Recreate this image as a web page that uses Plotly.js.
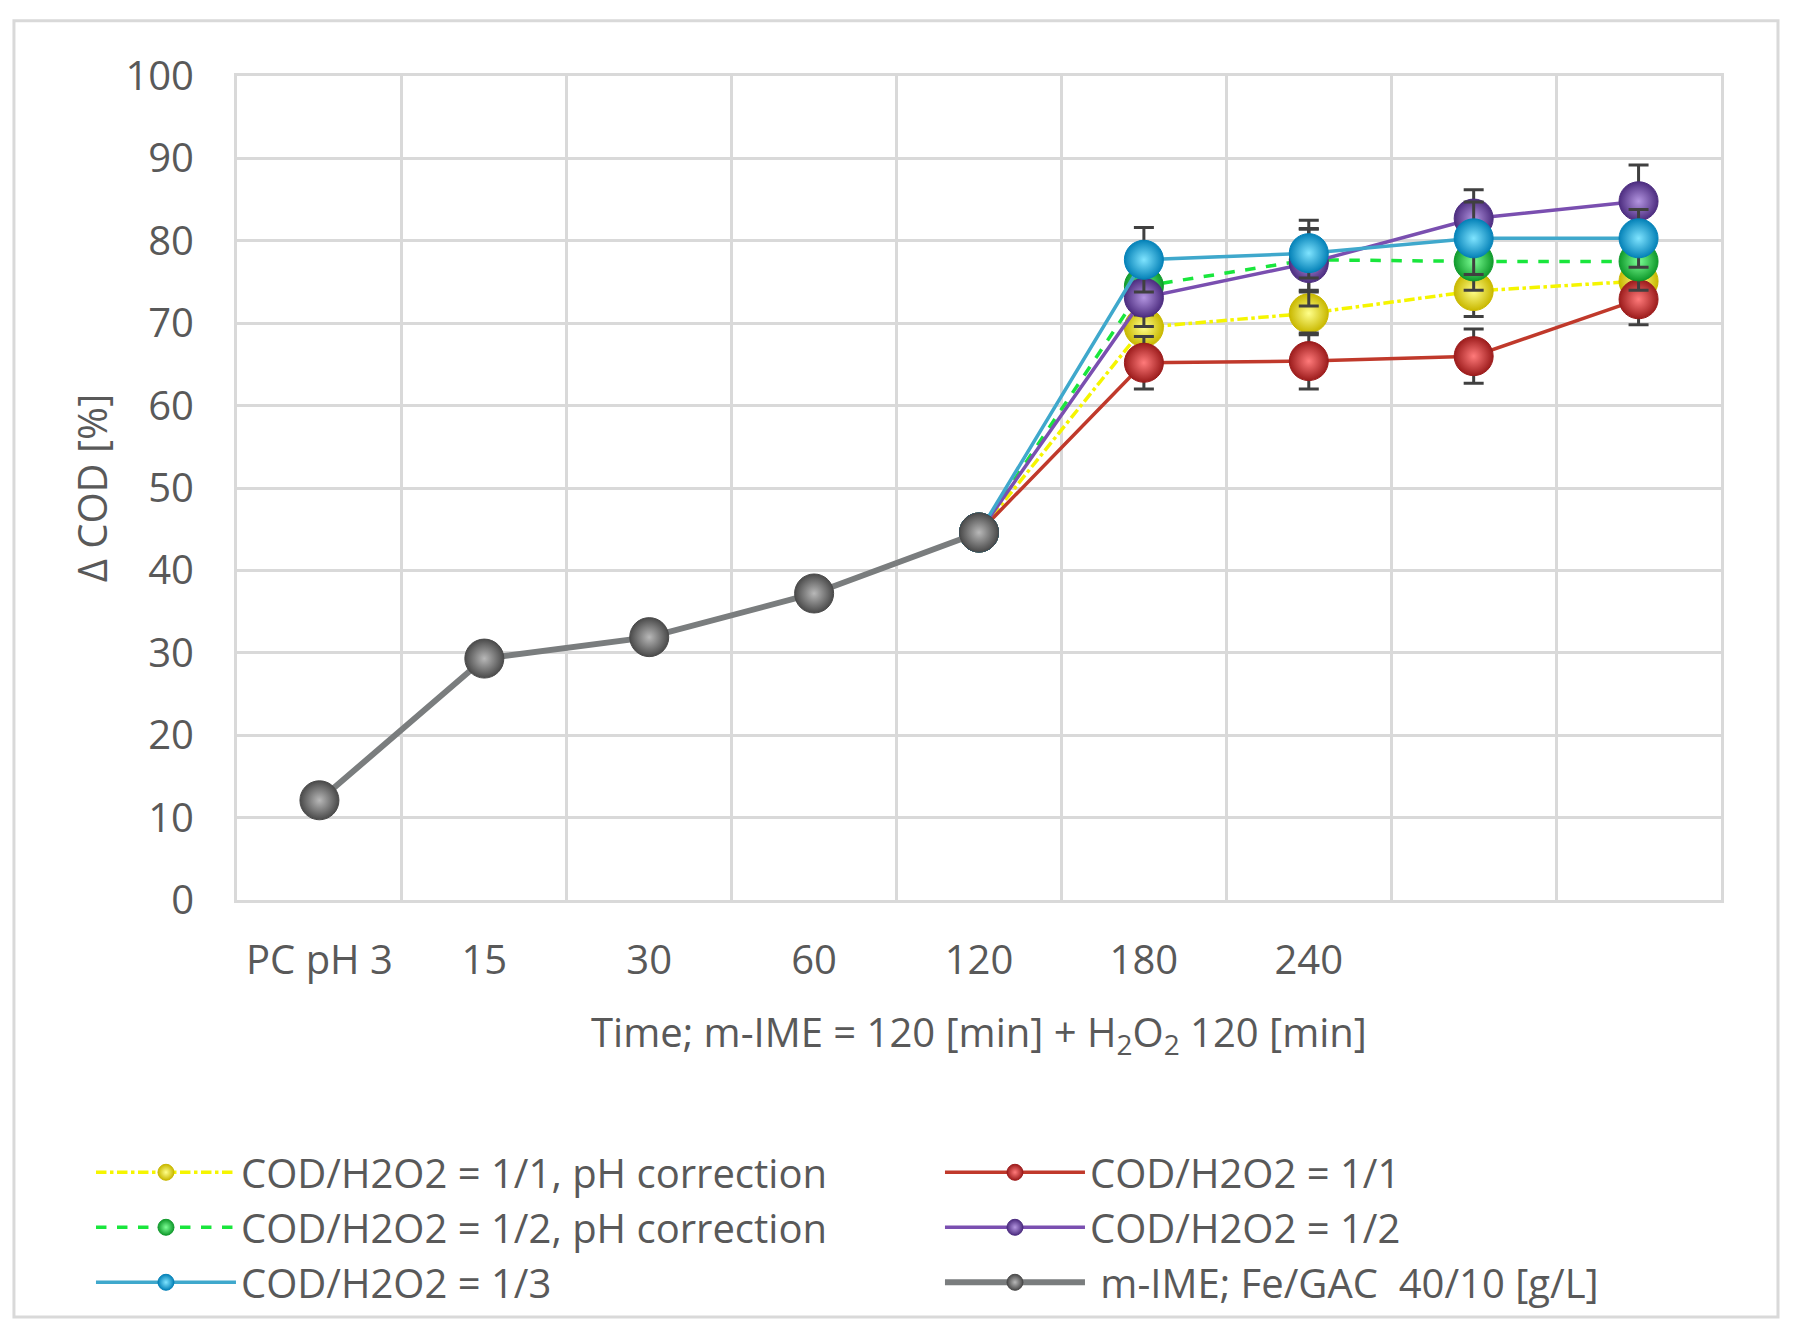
<!DOCTYPE html>
<html>
<head>
<meta charset="utf-8">
<script src="https://cdn.plot.ly/plotly-3.0.1.min.js"></script>
<style>
  html, body { margin: 0; padding: 0; background: #fff; }
  #chart { width: 1795px; height: 1342px; }
</style>
</head>
<body>
<div id="chart"></div>
<script>
// Δ COD vs time, m-IME + H2O2 stages

const categories = ['PC pH 3', '15', '30', '60', '120', '180', '240', '', ''];

// m-IME stage (first five categories)
const imeValues = [12.1, 29.3, 31.9, 37.2, 44.6];

// H2O2 stage, starting from the 120 min point
const yellowValues = [44.6, 69.5, 71.2, 73.9, 75.1];
const yellowErr    = [0, 3.0, 2.6, 3.1, 3.0];
const greenValues  = [44.6, 74.5, 77.7, 77.5, 77.5];
const greenErr     = [0, 3.5, 3.7, 3.5, 3.5];
const cyanValues   = [44.6, 77.7, 78.5, 80.3, 80.3];
const cyanErr      = [0, 3.9, 3.0, 4.4, 3.5];
const redValues    = [44.6, 65.2, 65.4, 66.0, 72.9];
const redErr       = [0, 3.2, 3.4, 3.3, 3.1];
const purpleValues = [44.6, 73.1, 77.3, 82.7, 84.8];
const purpleErr    = [0, 3.5, 5.2, 3.5, 4.4];

const seriesNames = [
    'COD/H2O2 = 1/1, pH correction',
    'COD/H2O2 = 1/1',
    'COD/H2O2 = 1/2, pH correction',
    'COD/H2O2 = 1/2',
    'COD/H2O2 = 1/3',
    ' m-IME; Fe/GAC  40/10 [g/L]'
];

const xIdx = categories.map((c, i) => i);
const labelled = xIdx.filter(i => categories[i] !== '');
const imeX = xIdx.slice(0, imeValues.length);
const h2o2X = xIdx.slice(imeValues.length - 1);

const TXT = '#595959';
const GRID = '#d9d9d9';
const FONT = 'Open Sans, sans-serif';

function sphere(edge, center, size) {
    return { size: size || 39, color: edge, gradient: { type: 'radial', color: center }, line: { color: edge, width: 1 } };
}
function errs(arr) {
    return { type: 'data', array: arr, visible: true, color: '#404040', thickness: 3, width: 10 };
}
function h2o2Trace(name, y, err, lineColor, dash, edge, center) {
    return { x: h2o2X, y: y, name: name, type: 'scatter', mode: 'lines+markers',
        line: { color: lineColor, width: 3.5, dash: dash }, marker: sphere(edge, center), error_y: errs(err) };
}

const traces = [
    h2o2Trace(seriesNames[0], yellowValues, yellowErr, '#f5f500', 'dashdot', '#c9b800', '#ffff8a'),
    h2o2Trace(seriesNames[1], redValues, redErr, '#c0392b', 'solid', '#9c1c1c', '#ff7a7a'),
    h2o2Trace(seriesNames[2], greenValues, greenErr, '#19e63c', 'dash', '#109a2c', '#7dff95'),
    h2o2Trace(seriesNames[3], purpleValues, purpleErr, '#7a4fb0', 'solid', '#4d2d80', '#b395e0'),
    h2o2Trace(seriesNames[4], cyanValues, cyanErr, '#3fa8cc', 'solid', '#0582b8', '#7fe4ff'),
    { x: imeX, y: imeValues, name: seriesNames[5], type: 'scatter', mode: 'lines+markers',
      line: { color: '#7a7d7e', width: 6 }, marker: sphere('#4a4a4a', '#b8b8b8') }
];

const layout = {
    width: 1795, height: 1342,
    paper_bgcolor: '#fff', plot_bgcolor: '#fff',
    font: { family: FONT, size: 40, color: TXT },
    margin: { l: 237, r: 74, t: 76, b: 442 },
    showlegend: true,
    xaxis: {
        range: [-0.5, categories.length - 0.5],
        tickmode: 'array', tickvals: labelled, ticktext: labelled.map(i => categories[i]),
        showgrid: false, zeroline: false,
        showline: true, mirror: true, linecolor: GRID, linewidth: 3,
        ticks: '', ticklabelstandoff: 23,
        minor: { tick0: -0.5, dtick: 1, showgrid: true, gridcolor: GRID, gridwidth: 3, ticks: '' },
        title: { text: 'Time; m-IME = 120 [min] + H<sub>2</sub>O<sub>2</sub> 120 [min]', standoff: 34, font: { size: 40, color: TXT } },
        fixedrange: true
    },
    yaxis: {
        range: [0, 100], dtick: 10,
        showgrid: true, gridcolor: GRID, gridwidth: 3, zeroline: false,
        showline: true, mirror: true, linecolor: GRID, linewidth: 3,
        ticks: '', ticklabelstandoff: 32,
        title: { text: 'Δ COD [%]', standoff: 6, font: { size: 40, color: TXT } },
        fixedrange: true
    },
    legend: {
        orientation: 'h', x: -0.0984, xanchor: 'left', y: -0.291, yanchor: 'top',
        entrywidth: 694, entrywidthmode: 'pixels', itemwidth: 140,
        font: { size: 40, color: TXT }, bgcolor: 'rgba(0,0,0,0)', traceorder: 'normal'
    },
    shapes: [{
        type: 'rect', xref: 'paper', yref: 'paper', layer: 'below',
        x0: -0.1503, x1: 1.0384, y0: -0.506, y1: 1.0672,
        line: { color: '#d9d9d9', width: 3 }, fillcolor: 'rgba(0,0,0,0)'
    }]
};

Plotly.newPlot('chart', traces, layout, { displayModeBar: false, staticPlot: true });
</script>
</body>
</html>
